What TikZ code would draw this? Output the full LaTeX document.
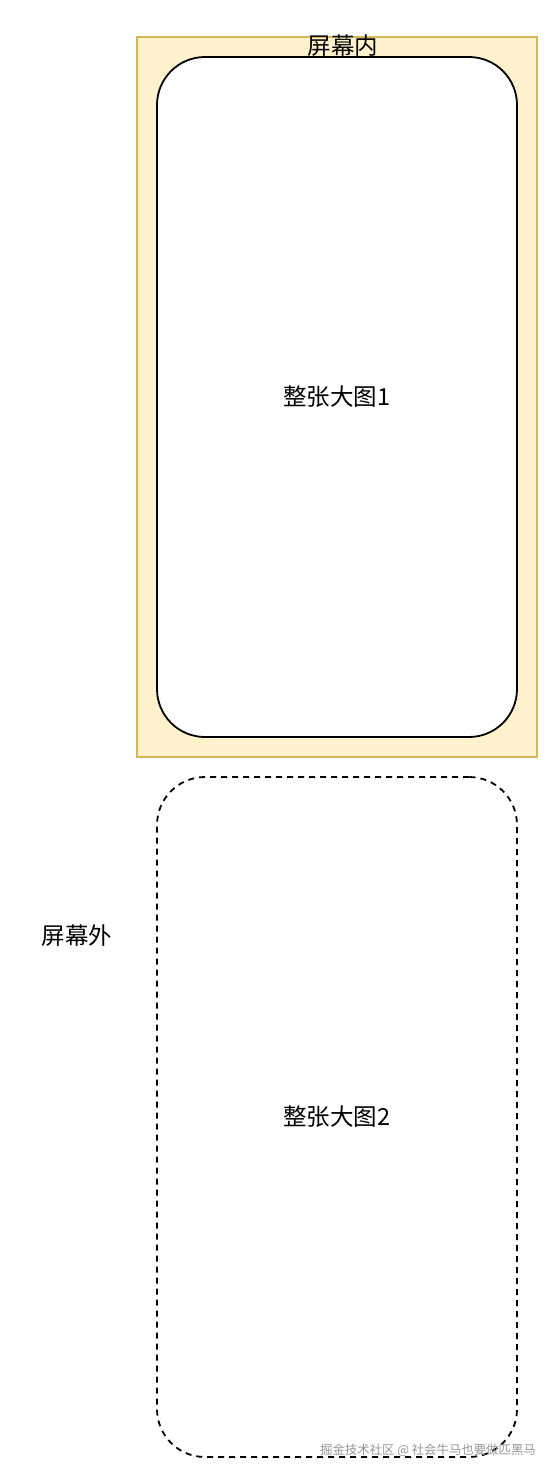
\documentclass[tikz,border=0pt]{standalone}
\usepackage{fontspec}
\setmainfont{Noto Sans CJK SC}
\definecolor{screenfill}{HTML}{FFF2CC}
\definecolor{screenline}{HTML}{D6B656}
\definecolor{wmgray}{RGB}{150,150,150}
\begin{document}
\begin{tikzpicture}[x=1pt,y=-1pt,
  screenbox/.style={draw=screenline,fill=screenfill,line width=1.5pt,minimum width=400pt,minimum height=720pt,inner sep=0pt},
  imgbox/.style={draw=black,fill=white,line width=1.8pt,rounded corners=48pt,minimum width=360pt,minimum height=680pt,inner sep=0pt,font=\fontsize{23.5}{28}\selectfont},
  dashbox/.style={imgbox,fill=none,dash pattern=on 6pt off 5pt},
  lbl/.style={inner sep=0pt,font=\fontsize{23.5}{28}\selectfont},
  wm/.style={inner sep=0pt,text=wmgray,font=\fontsize{12.4}{15}\selectfont}]
\useasboundingbox (0,0) rectangle (554,1474);
\node[screenbox] (screen) at (337,397) {};
\node[imgbox] (img1) at (337,397) {整张大图1};
\node[lbl] (inlabel) at (343,46) {屏幕内};
\node[dashbox] (img2) at (337,1117) {整张大图2};
\node[lbl] (outlabel) at (77,936) {屏幕外};
\node[wm] (watermark) at (428,1450) {掘金技术社区 @ 社会牛马也要做匹黑马};
\end{tikzpicture}
\end{document}
